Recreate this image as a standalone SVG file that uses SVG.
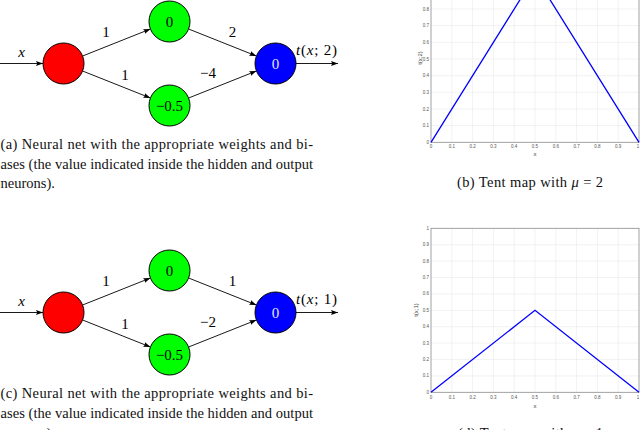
<svg xmlns="http://www.w3.org/2000/svg" width="640" height="430" viewBox="0 0 640 430">
<style>
.nd{stroke:#000;stroke-width:1}
.nl{font-family:"Liberation Serif",serif;font-size:15px;text-anchor:middle}
.el{font-family:"Liberation Serif",serif;font-size:15px;text-anchor:middle}
.it{font-style:italic}
.edge{stroke:#000;stroke-width:0.9;fill:none;marker-end:url(#ah)}
.cap{font-family:"Liberation Serif",serif;font-size:14.5px;fill:#111}
.grid{stroke:#e4e4e4;stroke-width:0.5}
.frame{fill:none;stroke:#8a8a8a;stroke-width:0.8}
.tk{font-family:"Liberation Sans",sans-serif;font-size:4.5px;fill:#555}
.ax{font-family:"Liberation Sans",sans-serif;font-size:6px;fill:#444}
.tent{fill:none;stroke:#0000ff;stroke-width:1.3}
</style>
<defs>
<marker id="ah" markerUnits="userSpaceOnUse" markerWidth="8" markerHeight="6" refX="7" refY="2.5" orient="auto">
<path d="M0,0 L7,2.5 L0,5 L1.2,2.5 z" fill="#000"/>
</marker>
</defs>

<!-- Top network (a) -->
<g id="connectors-a">
<line class="edge" x1="0" y1="63.5" x2="43" y2="63.5"/>
<line class="edge" x1="82.6" y1="56" x2="150.4" y2="29"/>
<line class="edge" x1="82.6" y1="71" x2="150.4" y2="98"/>
<line class="edge" x1="188.6" y1="29" x2="256.4" y2="56"/>
<line class="edge" x1="188.6" y1="98" x2="256.4" y2="71"/>
<line class="edge" x1="296" y1="63.5" x2="338" y2="63.5"/>
<text class="el it" x="21.7" y="57">x</text>
<text class="el" x="106" y="36.7">1</text>
<text class="el" x="125" y="80">1</text>
<text class="el" x="232.5" y="36.7">2</text>
<text class="el" x="208" y="78">−4</text>
<text class="el" x="296" y="55" style="text-anchor:start" textLength="41" lengthAdjust="spacing"><tspan class="it">t</tspan>(<tspan class="it">x</tspan>; 2)</text>
</g>
<g id="a-input"><circle class="nd" cx="63.5" cy="63.5" r="20.5" fill="#ff0000"/></g>
<g id="a-hidden1"><circle class="nd" cx="169.5" cy="21.5" r="20.5" fill="#00ff00"/><text class="nl" x="169.5" y="26.5">0</text></g>
<g id="a-hidden2"><circle class="nd" cx="169.5" cy="105.5" r="20.5" fill="#00ff00"/><text class="nl" x="169.5" y="110.5">−0.5</text></g>
<g id="a-output"><circle class="nd" cx="275.5" cy="63.5" r="20.5" fill="#0000ff"/><text class="nl" x="275.5" y="68.5" fill="#e6e6ff">0</text></g>

<!-- Bottom network (c) -->
<g id="connectors-c">
<line class="edge" x1="0" y1="312.5" x2="43" y2="312.5"/>
<line class="edge" x1="82.6" y1="305" x2="150.4" y2="278"/>
<line class="edge" x1="82.6" y1="320" x2="150.4" y2="347"/>
<line class="edge" x1="188.6" y1="278" x2="256.4" y2="305"/>
<line class="edge" x1="188.6" y1="347" x2="256.4" y2="320"/>
<line class="edge" x1="296" y1="312.5" x2="338" y2="312.5"/>
<text class="el it" x="21.7" y="306">x</text>
<text class="el" x="106" y="285.7">1</text>
<text class="el" x="125" y="329">1</text>
<text class="el" x="232.5" y="285.7">1</text>
<text class="el" x="208" y="327">−2</text>
<text class="el" x="296" y="304" style="text-anchor:start" textLength="41" lengthAdjust="spacing"><tspan class="it">t</tspan>(<tspan class="it">x</tspan>; 1)</text>
</g>
<g id="c-input"><circle class="nd" cx="63.5" cy="312.5" r="20.5" fill="#ff0000"/></g>
<g id="c-hidden1"><circle class="nd" cx="169.5" cy="270.5" r="20.5" fill="#00ff00"/><text class="nl" x="169.5" y="275.5">0</text></g>
<g id="c-hidden2"><circle class="nd" cx="169.5" cy="354.5" r="20.5" fill="#00ff00"/><text class="nl" x="169.5" y="359.5">−0.5</text></g>
<g id="c-output"><circle class="nd" cx="275.5" cy="312.5" r="20.5" fill="#0000ff"/><text class="nl" x="275.5" y="317.5" fill="#e6e6ff">0</text></g>

<!-- Captions -->
<text class="cap" x="0.5" y="149" textLength="312.5" lengthAdjust="spacing">(a) Neural net with the appropriate weights and bi-</text>
<text class="cap" x="0.5" y="168.5" textLength="312.5" lengthAdjust="spacing">ases (the value indicated inside the hidden and output</text>
<text class="cap" x="0.5" y="188">neurons).</text>
<text class="cap" x="0.5" y="398" textLength="312.5" lengthAdjust="spacing">(c) Neural net with the appropriate weights and bi-</text>
<text class="cap" x="0.5" y="417.5" textLength="312.5" lengthAdjust="spacing">ases (the value indicated inside the hidden and output</text>
<text class="cap" x="0.5" y="437.5">neurons).</text>
<text class="cap" x="457" y="187" textLength="146" lengthAdjust="spacing">(b) Tent map with <tspan class="it">μ</tspan> = 2</text>
<text class="cap" x="458" y="437.5" textLength="145" lengthAdjust="spacing">(d) Tent map with <tspan class="it">μ</tspan> = 1</text>

<!-- Plot (b) -->
<g id="plot-b">
<g class="grid">
<line x1="451.8" y1="-24.3" x2="451.8" y2="142.3"/><line x1="472.6" y1="-24.3" x2="472.6" y2="142.3"/><line x1="493.4" y1="-24.3" x2="493.4" y2="142.3"/><line x1="514.2" y1="-24.3" x2="514.2" y2="142.3"/><line x1="535" y1="-24.3" x2="535" y2="142.3"/><line x1="555.8" y1="-24.3" x2="555.8" y2="142.3"/><line x1="576.6" y1="-24.3" x2="576.6" y2="142.3"/><line x1="597.4" y1="-24.3" x2="597.4" y2="142.3"/><line x1="618.2" y1="-24.3" x2="618.2" y2="142.3"/>
<line x1="431" y1="125.6" x2="639" y2="125.6"/><line x1="431" y1="109" x2="639" y2="109"/><line x1="431" y1="92.3" x2="639" y2="92.3"/><line x1="431" y1="75.7" x2="639" y2="75.7"/><line x1="431" y1="59" x2="639" y2="59"/><line x1="431" y1="42.3" x2="639" y2="42.3"/><line x1="431" y1="25.7" x2="639" y2="25.7"/><line x1="431" y1="9" x2="639" y2="9"/><line x1="431" y1="-7.6" x2="639" y2="-7.6"/>
</g>
<rect class="frame" x="431" y="-24.3" width="208" height="166.6"/>
<polyline class="tent" points="431,142.3 535,-24.3 639,142.3"/>
<g class="tk" text-anchor="middle">
<text x="431" y="148">0</text><text x="451.8" y="148">0.1</text><text x="472.6" y="148">0.2</text><text x="493.4" y="148">0.3</text><text x="514.2" y="148">0.4</text><text x="535" y="148">0.5</text><text x="555.8" y="148">0.6</text><text x="576.6" y="148">0.7</text><text x="597.4" y="148">0.8</text><text x="618.2" y="148">0.9</text><text x="638" y="148">1</text>
</g>
<g class="tk" text-anchor="end">
<text x="429" y="143.8">0</text><text x="429" y="127.1">0.1</text><text x="429" y="110.5">0.2</text><text x="429" y="93.8">0.3</text><text x="429" y="77.2">0.4</text><text x="429" y="60.5">0.5</text><text x="429" y="43.8">0.6</text><text x="429" y="27.2">0.7</text><text x="429" y="10.5">0.8</text><text x="429" y="-6.1">0.9</text>
</g>
<text class="ax" x="535" y="156" text-anchor="middle">x</text>
<text class="ax" transform="translate(422,58) rotate(-90)" text-anchor="middle">t(x;2)</text>
</g>

<!-- Plot (d) -->
<g id="plot-d">
<g class="grid">
<line x1="451.8" y1="228.3" x2="451.8" y2="392.3"/><line x1="472.6" y1="228.3" x2="472.6" y2="392.3"/><line x1="493.4" y1="228.3" x2="493.4" y2="392.3"/><line x1="514.2" y1="228.3" x2="514.2" y2="392.3"/><line x1="535" y1="228.3" x2="535" y2="392.3"/><line x1="555.8" y1="228.3" x2="555.8" y2="392.3"/><line x1="576.6" y1="228.3" x2="576.6" y2="392.3"/><line x1="597.4" y1="228.3" x2="597.4" y2="392.3"/><line x1="618.2" y1="228.3" x2="618.2" y2="392.3"/>
<line x1="431" y1="375.9" x2="639" y2="375.9"/><line x1="431" y1="359.5" x2="639" y2="359.5"/><line x1="431" y1="343.1" x2="639" y2="343.1"/><line x1="431" y1="326.7" x2="639" y2="326.7"/><line x1="431" y1="310.3" x2="639" y2="310.3"/><line x1="431" y1="293.9" x2="639" y2="293.9"/><line x1="431" y1="277.5" x2="639" y2="277.5"/><line x1="431" y1="261.1" x2="639" y2="261.1"/><line x1="431" y1="244.7" x2="639" y2="244.7"/>
</g>
<rect class="frame" x="431" y="228.3" width="208" height="164"/>
<polyline class="tent" points="431,392.3 535,310.3 639,392.3"/>
<g class="tk" text-anchor="middle">
<text x="431" y="399">0</text><text x="451.8" y="399">0.1</text><text x="472.6" y="399">0.2</text><text x="493.4" y="399">0.3</text><text x="514.2" y="399">0.4</text><text x="535" y="399">0.5</text><text x="555.8" y="399">0.6</text><text x="576.6" y="399">0.7</text><text x="597.4" y="399">0.8</text><text x="618.2" y="399">0.9</text><text x="638" y="399">1</text>
</g>
<g class="tk" text-anchor="end">
<text x="429" y="393.8">0</text><text x="429" y="377.4">0.1</text><text x="429" y="361">0.2</text><text x="429" y="344.6">0.3</text><text x="429" y="328.2">0.4</text><text x="429" y="311.8">0.5</text><text x="429" y="295.4">0.6</text><text x="429" y="279">0.7</text><text x="429" y="262.6">0.8</text><text x="429" y="246.2">0.9</text><text x="429" y="229.8">1</text>
</g>
<text class="ax" x="535" y="408" text-anchor="middle">x</text>
<text class="ax" transform="translate(418,310) rotate(-90)" text-anchor="middle">t(x;1)</text>
</g>
</svg>
